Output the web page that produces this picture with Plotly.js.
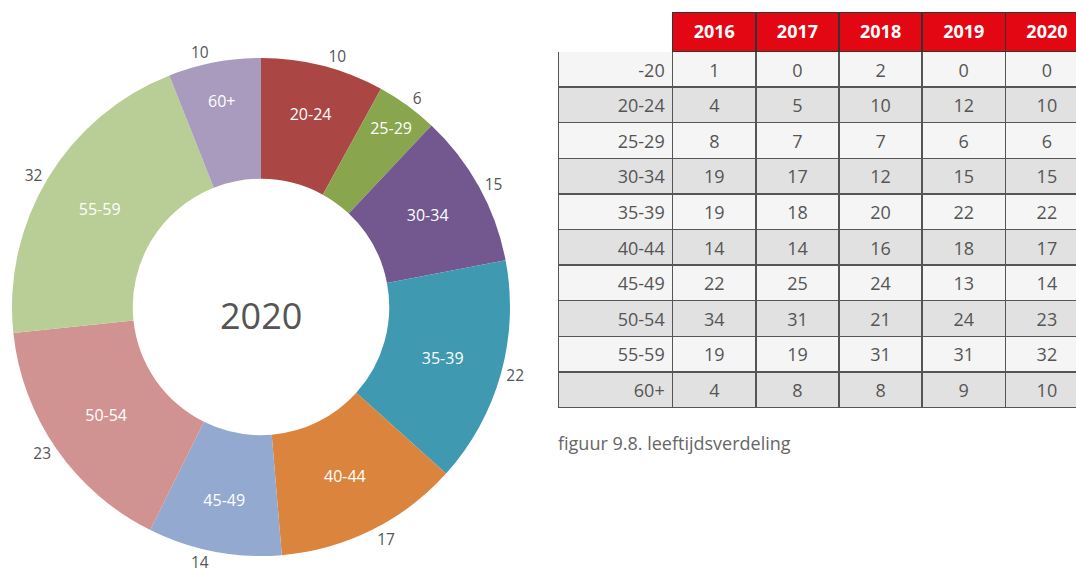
<!DOCTYPE html>
<html>
<head>
<meta charset="utf-8">
<script src="https://cdn.plot.ly/plotly-3.0.1.min.js"></script>
<style>
  html, body { margin: 0; padding: 0; overflow: hidden; background: #fff; }
  #chart { width: 1092px; height: 574px; }
</style>
</head>
<body>
<div id="chart"></div>
<script>
// ---- data ----
const ageGroups = ['-20', '20-24', '25-29', '30-34', '35-39', '40-44', '45-49', '50-54', '55-59', '60+'];
const years = ['2016', '2017', '2018', '2019', '2020'];
const v2016 = [1, 4, 8, 19, 19, 14, 22, 34, 19, 4];
const v2017 = [0, 5, 7, 17, 18, 14, 25, 31, 19, 8];
const v2018 = [2, 10, 7, 12, 20, 16, 24, 21, 31, 8];
const v2019 = [0, 12, 6, 15, 22, 18, 13, 24, 31, 9];
const v2020 = [0, 10, 6, 15, 22, 17, 14, 23, 32, 10];
const sliceColors = ['#4572a7', '#aa4643', '#89a54e', '#72588f', '#3f99b1', '#db843d', '#93a9cf', '#d19392', '#b9cd96', '#a99bbd'];
const centerTitle = '2020';
const caption = 'figuur 9.8. leeftijdsverdeling';

// In the reference the slice sizes follow the 2019 column while the printed
// numbers are the 2020 column, so both are used as the original did.
const sliceValues = v2019;
const sliceText = v2020;

// ---- build ----
const W = 1092, H = 574;
const keep = sliceValues.map((v, i) => v > 0 || sliceText[i] > 0);
const pLabels = ageGroups.filter((_, i) => keep[i]);
const pValues = sliceValues.filter((_, i) => keep[i]);
const pText = sliceText.filter((_, i) => keep[i]).map(String);
const pColors = sliceColors.filter((_, i) => keep[i]);

const cx = 261, cy = 307, R = 249;
const pieDomain = {
  x: [(cx - R) / W, (cx + R) / W],
  y: [1 - (cy + R) / H, 1 - (cy - R) / H]
};
const fontFam = '"Open Sans", "Noto Sans", sans-serif';

const pieInside = {
  type: 'pie',
  labels: pLabels,
  values: pValues,
  sort: false,
  direction: 'clockwise',
  rotation: 0,
  hole: 0.515,
  domain: pieDomain,
  marker: { colors: pColors, line: { width: 0 } },
  textposition: 'inside',
  texttemplate: '%{label}',
  insidetextorientation: 'horizontal',
  insidetextfont: { family: fontFam, size: 16, color: '#ffffff' },
  showlegend: false,
  hoverinfo: 'label+value'
};
const pieOutside = {
  type: 'pie',
  labels: pLabels,
  values: pValues,
  text: pText,
  sort: false,
  direction: 'clockwise',
  rotation: 0,
  hole: 0.515,
  domain: pieDomain,
  marker: { colors: pLabels.map(() => 'rgba(0,0,0,0)'), line: { width: 0 } },
  textposition: 'outside',
  texttemplate: '%{text}',
  outsidetextfont: { family: fontFam, size: 15.5, color: '#555555' },
  showlegend: false,
  hoverinfo: 'skip'
};

const oddFill = '#f5f5f5', evenFill = '#e1e1e1';
const rowFills = ageGroups.map((_, i) => (i % 2 === 0 ? oddFill : evenFill));
const red = '#e30613';
const x0 = 558.5, x1 = 558.5 + 114 + 5 * 83.2;
const colW = [114, 83, 83, 83, 83, 83];
const headH = 39, rowH = 35.6;
const tableTop = 12.5, textShift = 3.5;
const clear = 'rgba(0,0,0,0)';
const blankCols = [ageGroups, v2016, v2017, v2018, v2019, v2020].map(col => col.map(() => ''));

// table shapes (fills + borders)
const tableFrame = {
  type: 'table',
  domain: { x: [x0 / W, x1 / W], y: [0.05, 1 - tableTop / H] },
  columnwidth: colW,
  header: {
    values: ['', '', '', '', '', ''],
    height: headH,
    fill: { color: ['#ffffff'].concat(years.map(() => red)) },
    line: { color: ['#ffffff'].concat(years.map(() => '#333333')), width: 1.5 },
    font: { family: fontFam, size: 18 }
  },
  cells: {
    values: blankCols,
    height: rowH,
    fill: { color: colW.map(() => rowFills) },
    line: { color: '#555555', width: 1.5 },
    font: { family: fontFam, size: 18 }
  }
};
// table texts, nudged down to sit in the middle of the cells
const tableText = {
  type: 'table',
  domain: { x: [x0 / W, x1 / W], y: [0.04, 1 - (tableTop + textShift) / H] },
  columnwidth: colW,
  header: {
    values: [''].concat(years),
    align: 'center',
    height: headH,
    fill: { color: clear },
    line: { color: clear, width: 0 },
    font: { family: fontFam, size: 18, color: '#ffffff', weight: 'bold' }
  },
  cells: {
    values: [ageGroups, v2016, v2017, v2018, v2019, v2020],
    align: ['right', 'center', 'center', 'center', 'center', 'center'],
    height: rowH,
    fill: { color: clear },
    line: { color: clear, width: 0 },
    font: { family: fontFam, size: 18, color: '#555555' }
  }
};

const layout = {
  width: W,
  height: H,
  margin: { l: 0, r: 0, t: 0, b: 0 },
  paper_bgcolor: '#ffffff',
  plot_bgcolor: '#ffffff',
  showlegend: false,
  font: { family: fontFam },
  annotations: [
    {
      text: centerTitle,
      xref: 'paper', yref: 'paper',
      x: cx / W, y: 1 - 315 / H,
      xanchor: 'center', yanchor: 'middle',
      showarrow: false,
      font: { family: fontFam, size: 36, color: '#555555' }
    },
    {
      text: caption,
      xref: 'paper', yref: 'paper',
      x: 556 / W, y: 1 - 443 / H,
      xanchor: 'left', yanchor: 'middle',
      showarrow: false,
      font: { family: fontFam, size: 18, color: '#666666' }
    }
  ]
};

Plotly.newPlot('chart', [pieInside, pieOutside, tableFrame, tableText], layout, { displayModeBar: false, staticPlot: true });
</script>
</body>
</html>
